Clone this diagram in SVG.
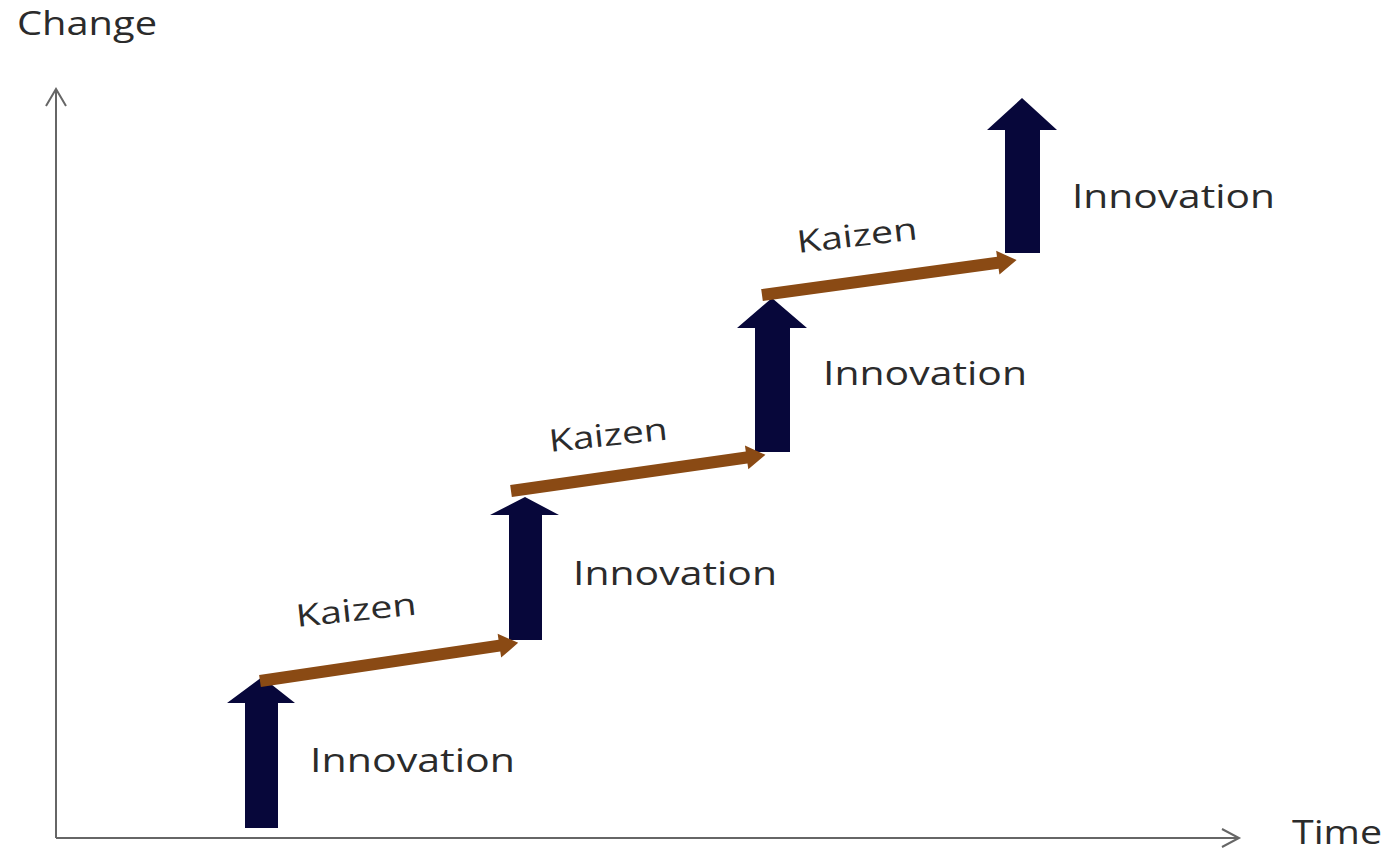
<svg xmlns="http://www.w3.org/2000/svg" width="1388" height="852" viewBox="0 0 1388 852">
<style>
.lbl{font-family:"Open Sans","Liberation Sans",sans-serif;fill:#2b2b2b;font-size:33px}
.kz{font-family:"Open Sans","Liberation Sans",sans-serif;fill:#2b2b2b;font-size:31px}
.ax{stroke:#666;stroke-width:2;fill:none}
.inn{fill:#07073a}
.kai{fill:#8a4a14}
</style>
<rect width="1388" height="852" fill="#fff"/>
<g id="axes">
<path class="ax" d="M56,838 V90 M46,106 L56,89 L66,106"/>
<path class="ax" d="M56,838 H1238 M1222,829 L1239,838 L1222,847"/>
<text class="lbl" x="17" y="35" font-size="34" textLength="140" lengthAdjust="spacingAndGlyphs">Change</text>
<text class="lbl" x="1292" y="844" font-size="34" textLength="90" lengthAdjust="spacingAndGlyphs">Time</text>
</g>
<g id="innovation1">
<polygon class="inn" points="245,828 245,703 227,703 262,677 295,703 278,703 278,828"/>
<text class="lbl" x="310" y="772" textLength="205" lengthAdjust="spacingAndGlyphs">Innovation</text>
</g>
<g id="innovation2">
<polygon class="inn" points="509,640 509,515 490,515 525,497 559,515 542,515 542,640"/>
<text class="lbl" x="573" y="585" textLength="204" lengthAdjust="spacingAndGlyphs">Innovation</text>
</g>
<g id="innovation3">
<polygon class="inn" points="755,452 755,328 737,328 772,298 807,328 790,328 790,452"/>
<text class="lbl" x="823" y="385" textLength="204" lengthAdjust="spacingAndGlyphs">Innovation</text>
</g>
<g id="innovation4">
<polygon class="inn" points="1005,253 1005,130 987,130 1022,98 1057,130 1040,130 1040,253"/>
<text class="lbl" x="1072" y="208" textLength="203" lengthAdjust="spacingAndGlyphs">Innovation</text>
</g>
<g id="connectors">
<polygon class="kai" transform="translate(260,681) rotate(-8.4)" points="0,-6 242,-6 242,-12 261,0 242,12 242,6 0,6"/>
<polygon class="kai" transform="translate(511,491) rotate(-8.1)" points="0,-6 238,-6 238,-12 257,0 238,12 238,6 0,6"/>
<polygon class="kai" transform="translate(762,295) rotate(-7.8)" points="0,-6 238,-6 238,-12 257,0 238,12 238,6 0,6"/>
</g>
<g id="kaizen1">
<text class="kz" transform="translate(297,627) rotate(-6)" textLength="121" lengthAdjust="spacingAndGlyphs">Kaizen</text>
</g>
<g id="kaizen2">
<text class="kz" transform="translate(550,452) rotate(-6)" textLength="119" lengthAdjust="spacingAndGlyphs">Kaizen</text>
</g>
<g id="kaizen3">
<text class="kz" transform="translate(798,253) rotate(-6.5)" textLength="121" lengthAdjust="spacingAndGlyphs">Kaizen</text>
</g>
</svg>
